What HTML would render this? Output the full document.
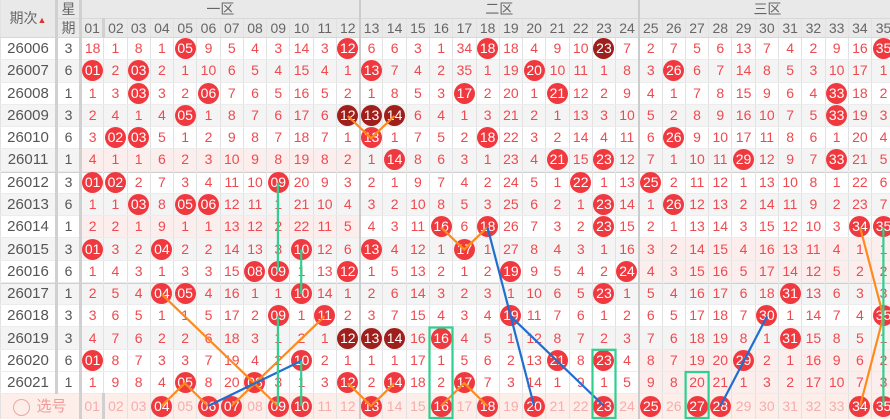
<!DOCTYPE html>
<html><head><meta charset="utf-8"><style>
body{margin:0;width:890px;height:420px;overflow:hidden;background:#fff;position:relative;font-family:"Liberation Sans","Noto Sans CJK SC",sans-serif}
table{border-collapse:collapse;table-layout:fixed;width:895px;position:absolute;left:0;top:0}
td{padding:0;text-align:center;font-size:14px;line-height:20px;color:#ee4a4f;border-left:1px solid #e2e2e2;border-bottom:1px solid #ececec;white-space:nowrap;overflow:hidden}
tr.h td{background:#e9e9e9;color:#666;height:18px;line-height:18px;font-size:14px;border-bottom:1px solid #d8d8d8}
tr.d td{height:21.27px;line-height:21px}
tr.g td{background:#f4f4f4}
td:nth-child(1){color:#555;font-size:15px;border-right:3px solid #d0d0d0}
td:nth-child(2){color:#555;border-right:3px solid #d0d0d0}
tr.d td:nth-child(14),tr.d td:nth-child(26){border-right:2px solid #ccc}
tr.p1 td:nth-child(n+3):nth-child(-n+14){background:#fdeeee}
tr.p3 td:nth-child(n+27){background:#fdeeee}
tr.t1 td{box-shadow:inset 0 1px 0 #d0d0d0}
b{display:inline-block;width:21px;height:21px;line-height:21px;border-radius:50%;background:#f0393f;color:#fff;font-weight:normal;font-size:14px;vertical-align:top}
b.k{background:#9e1f1c}
tr.s td{background:#fdeee9;color:#f4adab;height:25px;line-height:21px;border-bottom:none}
tr.s td:nth-child(1){color:#f19a98}
.ci{display:inline-block;width:15px;height:15px;border:1.5px solid #f3a3a3;border-radius:50%;vertical-align:middle;margin-right:6px}
</style></head><body>
<table>
<colgroup><col style="width:56px"><col style="width:24px"></colgroup>
<tr class="h"><td rowspan="2" style="font-size:14px">期次<span style="font-size:9px;color:#d33">▲</span></td><td>星</td><td colspan="12" style="border-right:2px solid #ccc">一区</td><td colspan="12" style="border-right:2px solid #ccc">二区</td><td colspan="11">三区</td></tr>
<tr class="h"><td>期</td><td>01</td><td>02</td><td>03</td><td>04</td><td>05</td><td>06</td><td>07</td><td>08</td><td>09</td><td>10</td><td>11</td><td style="border-right:2px solid #ccc">12</td><td>13</td><td>14</td><td>15</td><td>16</td><td>17</td><td>18</td><td>19</td><td>20</td><td>21</td><td>22</td><td>23</td><td style="border-right:2px solid #ccc">24</td><td>25</td><td>26</td><td>27</td><td>28</td><td>29</td><td>30</td><td>31</td><td>32</td><td>33</td><td>34</td><td>35</td></tr>
<tr class="d"><td>26006</td><td>3</td><td>18</td><td>1</td><td>8</td><td>1</td><td><b>05</b></td><td>9</td><td>5</td><td>4</td><td>3</td><td>14</td><td>3</td><td><b>12</b></td><td>6</td><td>6</td><td>3</td><td>1</td><td>34</td><td><b>18</b></td><td>18</td><td>4</td><td>9</td><td>10</td><td><b class="k">23</b></td><td>7</td><td>2</td><td>7</td><td>5</td><td>6</td><td>13</td><td>7</td><td>4</td><td>2</td><td>9</td><td>16</td><td><b>35</b></td></tr>
<tr class="d g"><td>26007</td><td>6</td><td><b>01</b></td><td>2</td><td><b>03</b></td><td>2</td><td>1</td><td>10</td><td>6</td><td>5</td><td>4</td><td>15</td><td>4</td><td>1</td><td><b>13</b></td><td>7</td><td>4</td><td>2</td><td>35</td><td>1</td><td>19</td><td><b>20</b></td><td>10</td><td>11</td><td>1</td><td>8</td><td>3</td><td><b>26</b></td><td>6</td><td>7</td><td>14</td><td>8</td><td>5</td><td>3</td><td>10</td><td>17</td><td>1</td></tr>
<tr class="d"><td>26008</td><td>1</td><td>1</td><td>3</td><td><b>03</b></td><td>3</td><td>2</td><td><b>06</b></td><td>7</td><td>6</td><td>5</td><td>16</td><td>5</td><td>2</td><td>1</td><td>8</td><td>5</td><td>3</td><td><b>17</b></td><td>2</td><td>20</td><td>1</td><td><b>21</b></td><td>12</td><td>2</td><td>9</td><td>4</td><td>1</td><td>7</td><td>8</td><td>15</td><td>9</td><td>6</td><td>4</td><td><b>33</b></td><td>18</td><td>2</td></tr>
<tr class="d g"><td>26009</td><td>3</td><td>2</td><td>4</td><td>1</td><td>4</td><td><b>05</b></td><td>1</td><td>8</td><td>7</td><td>6</td><td>17</td><td>6</td><td><b class="k">12</b></td><td><b class="k">13</b></td><td><b class="k">14</b></td><td>6</td><td>4</td><td>1</td><td>3</td><td>21</td><td>2</td><td>1</td><td>13</td><td>3</td><td>10</td><td>5</td><td>2</td><td>8</td><td>9</td><td>16</td><td>10</td><td>7</td><td>5</td><td><b>33</b></td><td>19</td><td>3</td></tr>
<tr class="d"><td>26010</td><td>6</td><td>3</td><td><b>02</b></td><td><b>03</b></td><td>5</td><td>1</td><td>2</td><td>9</td><td>8</td><td>7</td><td>18</td><td>7</td><td>1</td><td><b>13</b></td><td>1</td><td>7</td><td>5</td><td>2</td><td><b>18</b></td><td>22</td><td>3</td><td>2</td><td>14</td><td>4</td><td>11</td><td>6</td><td><b>26</b></td><td>9</td><td>10</td><td>17</td><td>11</td><td>8</td><td>6</td><td>1</td><td>20</td><td>4</td></tr>
<tr class="d g p1"><td>26011</td><td>1</td><td>4</td><td>1</td><td>1</td><td>6</td><td>2</td><td>3</td><td>10</td><td>9</td><td>8</td><td>19</td><td>8</td><td>2</td><td>1</td><td><b>14</b></td><td>8</td><td>6</td><td>3</td><td>1</td><td>23</td><td>4</td><td><b>21</b></td><td>15</td><td><b>23</b></td><td>12</td><td>7</td><td>1</td><td>10</td><td>11</td><td><b>29</b></td><td>12</td><td>9</td><td>7</td><td><b>33</b></td><td>21</td><td>5</td></tr>
<tr class="d t1"><td>26012</td><td>3</td><td><b>01</b></td><td><b>02</b></td><td>2</td><td>7</td><td>3</td><td>4</td><td>11</td><td>10</td><td><b>09</b></td><td>20</td><td>9</td><td>3</td><td>2</td><td>1</td><td>9</td><td>7</td><td>4</td><td>2</td><td>24</td><td>5</td><td>1</td><td><b>22</b></td><td>1</td><td>13</td><td><b>25</b></td><td>2</td><td>11</td><td>12</td><td>1</td><td>13</td><td>10</td><td>8</td><td>1</td><td>22</td><td>6</td></tr>
<tr class="d g"><td>26013</td><td>6</td><td>1</td><td>1</td><td><b>03</b></td><td>8</td><td><b>05</b></td><td><b>06</b></td><td>12</td><td>11</td><td>1</td><td>21</td><td>10</td><td>4</td><td>3</td><td>2</td><td>10</td><td>8</td><td>5</td><td>3</td><td>25</td><td>6</td><td>2</td><td>1</td><td><b>23</b></td><td>14</td><td>1</td><td><b>26</b></td><td>12</td><td>13</td><td>2</td><td>14</td><td>11</td><td>9</td><td>2</td><td>23</td><td>7</td></tr>
<tr class="d p1"><td>26014</td><td>1</td><td>2</td><td>2</td><td>1</td><td>9</td><td>1</td><td>1</td><td>13</td><td>12</td><td>2</td><td>22</td><td>11</td><td>5</td><td>4</td><td>3</td><td>11</td><td><b>16</b></td><td>6</td><td><b>18</b></td><td>26</td><td>7</td><td>3</td><td>2</td><td><b>23</b></td><td>15</td><td>2</td><td>1</td><td>13</td><td>14</td><td>3</td><td>15</td><td>12</td><td>10</td><td>3</td><td><b>34</b></td><td><b>35</b></td></tr>
<tr class="d g p3"><td>26015</td><td>3</td><td><b>01</b></td><td>3</td><td>2</td><td><b>04</b></td><td>2</td><td>2</td><td>14</td><td>13</td><td>3</td><td><b>10</b></td><td>12</td><td>6</td><td><b>13</b></td><td>4</td><td>12</td><td>1</td><td><b>17</b></td><td>1</td><td>27</td><td>8</td><td>4</td><td>3</td><td>1</td><td>16</td><td>3</td><td>2</td><td>14</td><td>15</td><td>4</td><td>16</td><td>13</td><td>11</td><td>4</td><td>1</td><td>1</td></tr>
<tr class="d p3"><td>26016</td><td>6</td><td>1</td><td>4</td><td>3</td><td>1</td><td>3</td><td>3</td><td>15</td><td><b>08</b></td><td><b>09</b></td><td>1</td><td>13</td><td><b>12</b></td><td>1</td><td>5</td><td>13</td><td>2</td><td>1</td><td>2</td><td><b>19</b></td><td>9</td><td>5</td><td>4</td><td>2</td><td><b>24</b></td><td>4</td><td>3</td><td>15</td><td>16</td><td>5</td><td>17</td><td>14</td><td>12</td><td>5</td><td>2</td><td>2</td></tr>
<tr class="d g t1"><td>26017</td><td>1</td><td>2</td><td>5</td><td>4</td><td><b>04</b></td><td><b>05</b></td><td>4</td><td>16</td><td>1</td><td>1</td><td><b>10</b></td><td>14</td><td>1</td><td>2</td><td>6</td><td>14</td><td>3</td><td>2</td><td>3</td><td>1</td><td>10</td><td>6</td><td>5</td><td><b>23</b></td><td>1</td><td>5</td><td>4</td><td>16</td><td>17</td><td>6</td><td>18</td><td><b>31</b></td><td>13</td><td>6</td><td>3</td><td>3</td></tr>
<tr class="d"><td>26018</td><td>3</td><td>3</td><td>6</td><td>5</td><td>1</td><td>1</td><td>5</td><td>17</td><td>2</td><td><b>09</b></td><td>1</td><td><b>11</b></td><td>2</td><td>3</td><td>7</td><td>15</td><td>4</td><td>3</td><td>4</td><td><b>19</b></td><td>11</td><td>7</td><td>6</td><td>1</td><td>2</td><td>6</td><td>5</td><td>17</td><td>18</td><td>7</td><td><b>30</b></td><td>1</td><td>14</td><td>7</td><td>4</td><td><b>35</b></td></tr>
<tr class="d g"><td>26019</td><td>3</td><td>4</td><td>7</td><td>6</td><td>2</td><td>2</td><td>6</td><td>18</td><td>3</td><td>1</td><td>2</td><td>1</td><td><b class="k">12</b></td><td><b class="k">13</b></td><td><b class="k">14</b></td><td>16</td><td><b>16</b></td><td>4</td><td>5</td><td>1</td><td>12</td><td>8</td><td>7</td><td>2</td><td>3</td><td>7</td><td>6</td><td>18</td><td>19</td><td>8</td><td>1</td><td><b>31</b></td><td>15</td><td>8</td><td>5</td><td>1</td></tr>
<tr class="d p3"><td>26020</td><td>6</td><td><b>01</b></td><td>8</td><td>7</td><td>3</td><td>3</td><td>7</td><td>19</td><td>4</td><td>2</td><td><b>10</b></td><td>2</td><td>1</td><td>1</td><td>1</td><td>17</td><td>1</td><td>5</td><td>6</td><td>2</td><td>13</td><td><b>21</b></td><td>8</td><td><b>23</b></td><td>4</td><td>8</td><td>7</td><td>19</td><td>20</td><td><b>29</b></td><td>2</td><td>1</td><td>16</td><td>9</td><td>6</td><td>2</td></tr>
<tr class="d p3"><td>26021</td><td>1</td><td>1</td><td>9</td><td>8</td><td>4</td><td><b>05</b></td><td>8</td><td>20</td><td><b>08</b></td><td>3</td><td>1</td><td>3</td><td><b>12</b></td><td>2</td><td><b>14</b></td><td>18</td><td>2</td><td><b>17</b></td><td>7</td><td>3</td><td>14</td><td>1</td><td>9</td><td>1</td><td>5</td><td>9</td><td>8</td><td>20</td><td>21</td><td>1</td><td>3</td><td>2</td><td>17</td><td>10</td><td>7</td><td>3</td></tr>
<tr class="s"><td colspan="2" style="border-right:3px solid #d0d0d0"><span class="ci"></span>选号</td><td>01</td><td>02</td><td>03</td><td><b>04</b></td><td>05</td><td><b>06</b></td><td><b>07</b></td><td>08</td><td><b>09</b></td><td><b>10</b></td><td>11</td><td style="border-right:2px solid #ccc">12</td><td><b>13</b></td><td>14</td><td>15</td><td><b>16</b></td><td>17</td><td><b>18</b></td><td>19</td><td><b>20</b></td><td>21</td><td>22</td><td><b>23</b></td><td style="border-right:2px solid #ccc">24</td><td><b>25</b></td><td>26</td><td><b>27</b></td><td><b>28</b></td><td>29</td><td>30</td><td>31</td><td>32</td><td>33</td><td><b>34</b></td><td><b>35</b></td></tr>
</table>
<svg width="890" height="420" style="position:absolute;left:0;top:0" fill="none" stroke-width="2.2">
<g stroke="#ff8a1c">
<polyline points="347.8,116 371.1,138.2 394.4,116"/>
<polyline points="441,227.3 464.2,249.6 487.5,227.3"/>
<polyline points="161.5,294.1 277.9,406"/>
<polyline points="161.5,406 184.8,383.2 208.1,406"/>
<polyline points="231.4,406 324.5,316.4"/>
<polyline points="347.8,383.2 371.1,406 394.4,383.2"/>
<polyline points="441,406 464.2,383.2 487.5,406"/>
<polyline points="860.1,227.3 883.4,316.4 860.1,406"/>
</g>
<g stroke="#1f6fd0">
<polyline points="487.5,227.3 534.1,406"/>
<polyline points="510.8,316.4 604,406"/>
<polyline points="208.1,406 301.2,360.9"/>
<polyline points="720.4,406 767,316.4"/>
</g>
<g stroke="#2fcf8f">
<line x1="277.9" y1="182.8" x2="277.9" y2="271.8"/>
<line x1="277.9" y1="316.4" x2="277.9" y2="406"/>
<line x1="301.2" y1="249.6" x2="301.2" y2="294.1"/>
<line x1="301.2" y1="360.9" x2="301.2" y2="406"/>
<line x1="883.4" y1="227.3" x2="883.4" y2="406"/>
<rect x="429.5" y="327.5" width="23" height="90.5"/>
<rect x="592.5" y="349.8" width="23" height="68.2"/>
<rect x="685.6" y="372" width="23" height="46"/>
</g>
</svg>
</body></html>
